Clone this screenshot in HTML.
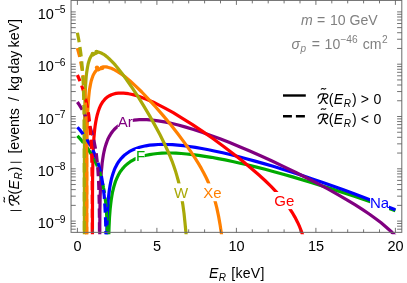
<!DOCTYPE html>
<html><head><meta charset="utf-8"><title>plot</title>
<style>
html,body{margin:0;padding:0;background:#fff;}
body{width:407px;height:283px;overflow:hidden;}
svg{display:block;will-change:transform;font-family:"Liberation Sans",sans-serif;font-size:14.1px;}
.c path{fill:none;stroke-width:3.2;stroke-linejoin:round;}
</style></head><body>
<svg width="407" height="283" viewBox="0 0 407 283">
<defs><clipPath id="cp"><rect x="70.05" y="-0.6" width="332.75" height="234.95"/></clipPath></defs>
<g class="c" clip-path="url(#cp)">
<path d="M108.2,262.4 L108.3,262.4 L108.6,242.5 L109.0,227.8 L109.5,217.5 L110.2,208.5 L110.7,204.1 L111.2,200.1 L111.8,196.3 L112.4,192.7 L113.2,189.4 L114.0,186.2 L114.9,183.3 L115.8,180.6 L117.0,177.9 L118.2,175.3 L119.5,172.9 L121.0,170.7 L122.6,168.6 L124.3,166.7 L126.2,164.9 L128.2,163.2 L130.3,161.7 L132.6,160.3 L135.0,159.0 L137.5,157.9 L140.3,156.9 L143.2,156.0 L146.3,155.2 L149.5,154.6 L153.4,154.0 L157.5,153.5 L161.9,153.2 L166.4,153.0 L171.2,153.0 L176.1,153.2 L181.3,153.5 L186.7,154.0 L192.5,154.6 L198.6,155.3 L204.9,156.3 L211.4,157.3 L218.2,158.6 L225.2,159.9 L232.6,161.5 L240.2,163.2 L248.2,165.0 L256.5,167.1 L265.1,169.3 L274.0,171.7 L283.2,174.2 L292.6,176.9 L312.0,182.7 L332.5,189.1 L353.6,196.1 L374.8,203.3 L395.4,210.7" stroke="#00aa00"/>
<path d="M106.3,262.4 L106.4,262.4 L106.6,241.0 L107.0,224.4 L107.4,212.6 L108.0,202.8 L108.4,198.2 L108.9,193.8 L109.4,189.8 L110.0,185.9 L110.7,182.4 L111.4,179.0 L112.3,175.9 L113.2,173.0 L114.2,170.2 L115.4,167.4 L116.7,164.9 L118.1,162.5 L119.6,160.4 L121.3,158.3 L123.1,156.5 L125.0,154.7 L127.0,153.2 L129.2,151.7 L131.6,150.4 L134.1,149.2 L136.8,148.2 L139.6,147.3 L142.6,146.5 L145.8,145.8 L149.7,145.2 L153.9,144.8 L158.2,144.5 L162.7,144.4 L167.5,144.5 L172.5,144.7 L177.8,145.1 L183.4,145.7 L189.3,146.5 L195.4,147.4 L201.8,148.5 L208.5,149.7 L215.4,151.2 L222.7,152.8 L230.2,154.5 L238.0,156.5 L246.3,158.7 L255.0,161.1 L263.9,163.6 L273.1,166.3 L282.6,169.3 L292.3,172.3 L302.2,175.6 L312.4,179.0 L322.8,182.6 L333.5,186.3 L344.1,190.1 L354.8,194.0 L365.3,198.0 L375.6,202.0 L385.7,205.9 L395.4,209.8" stroke="#0000ff"/>
<path d="M99.6,262.4 L99.8,228.1 L99.9,210.8 L100.2,195.6 L100.7,183.0 L101.0,177.3 L101.3,171.9 L101.8,167.2 L102.2,162.7 L102.8,158.5 L103.4,154.8 L104.1,151.3 L104.9,147.9 L105.9,144.6 L107.0,141.5 L108.1,138.7 L109.5,136.1 L110.9,133.7 L112.5,131.5 L114.2,129.5 L116.1,127.7 L118.1,126.1 L120.3,124.7 L122.6,123.5 L125.1,122.4 L127.8,121.5 L130.7,120.8 L133.8,120.2 L137.0,119.8 L139.3,119.7 L141.7,119.6 L144.2,119.6 L146.8,119.7 L152.3,120.1 L158.2,120.8 L164.4,121.9 L171.1,123.3 L178.2,125.0 L185.7,127.1 L193.6,129.5 L202.0,132.3 L210.8,135.4 L220.0,138.8 L229.6,142.6 L239.6,146.7 L249.8,151.0 L260.5,155.7 L272.1,161.0 L283.8,166.6 L295.4,172.2 L306.9,178.0 L317.8,183.6 L328.2,189.2 L337.9,194.6 L346.9,199.8 L354.9,204.7 L362.3,209.4 L369.2,214.0 L375.4,218.5 L381.1,222.8 L386.3,227.2 L391.1,231.5 L395.4,235.8" stroke="#800080"/>
<path d="M92.4,262.4 L92.5,195.6 L92.6,176.4 L92.9,161.2 L93.3,148.4 L93.9,138.2 L94.3,133.5 L94.7,129.3 L95.2,125.4 L95.8,121.8 L96.5,118.1 L97.3,114.7 L98.2,111.6 L99.2,108.7 L100.3,106.1 L101.5,103.8 L102.8,101.7 L104.3,99.9 L105.9,98.2 L107.6,96.8 L109.5,95.7 L111.5,94.7 L113.7,94.0 L116.0,93.4 L118.5,93.1 L121.1,93.0 L123.5,93.1 L125.9,93.3 L128.4,93.7 L131.1,94.2 L133.9,94.9 L136.9,95.8 L140.0,96.8 L143.1,97.9 L146.5,99.2 L149.9,100.7 L153.5,102.3 L157.2,104.1 L164.9,108.1 L173.2,112.7 L182.4,118.3 L192.1,124.4 L202.2,131.1 L212.5,138.3 L223.0,146.0 L233.2,153.7 L242.8,161.3 L251.7,168.7 L258.7,174.8 L265.0,180.5 L270.8,186.1 L276.0,191.6 L280.7,196.8 L284.9,202.0 L288.7,207.1 L290.5,209.8 L292.1,212.3 L294.9,217.1 L297.4,221.9 L299.6,226.7 L301.6,231.9 L304.0,239.1 L306.3,246.6 L308.2,254.3 L310.0,262.3 L310.1,262.4 L320.2,262.4" stroke="#ff0000"/>
<path d="M86.7,262.4 L86.8,181.7 L86.8,157.7 L87.0,141.6 L87.2,127.4 L87.5,116.1 L88.0,106.5 L88.6,98.2 L89.0,94.1 L89.4,90.3 L90.0,86.9 L90.6,83.8 L91.2,81.0 L92.0,78.5 L92.8,76.2 L93.7,74.2 L94.7,72.5 L95.8,71.0 L96.9,69.7 L98.2,68.7 L98.2,70.0 L99.3,69.3 L100.4,68.7 L101.6,68.3 L102.9,68.1 L102.9,66.9 L104.3,66.8 L105.9,66.9 L107.6,67.2 L109.4,67.7 L111.3,68.3 L113.3,69.2 L115.4,70.3 L117.6,71.6 L119.9,73.1 L122.3,74.7 L124.8,76.6 L127.4,78.7 L130.1,81.0 L135.7,86.1 L141.8,92.0 L148.7,99.3 L155.9,107.2 L163.4,115.9 L170.8,124.8 L177.8,133.8 L184.4,142.6 L190.3,150.9 L195.4,158.6 L198.5,163.6 L201.3,168.4 L203.9,173.2 L206.2,177.8 L208.4,182.5 L210.3,187.0 L212.0,191.4 L213.6,196.2 L215.3,202.0 L216.8,207.8 L218.6,216.4 L220.2,225.4 L221.4,233.5 L222.6,242.3 L223.6,251.2 L224.7,262.4 L228.7,262.4" stroke="#ff8000"/>
<path d="M84.4,262.4 L84.4,175.8 L84.5,129.3 L84.7,114.2 L84.9,102.7 L85.2,93.2 L85.6,84.8 L86.2,76.6 L86.6,73.1 L87.1,69.8 L87.6,66.8 L88.1,64.2 L88.7,61.9 L89.4,59.8 L90.1,57.9 L90.9,56.4 L91.8,55.1 L92.7,54.0 L92.9,53.8 L92.9,55.1 L93.7,54.4 L94.6,53.9 L95.5,53.5 L96.4,53.3 L96.4,52.1 L97.3,52.0 L98.5,52.1 L99.8,52.5 L101.2,53.0 L102.7,53.8 L104.3,54.7 L105.9,55.9 L107.6,57.3 L109.4,59.0 L111.3,60.8 L113.3,62.9 L115.4,65.2 L117.5,67.7 L122.0,73.4 L126.8,80.0 L132.4,88.1 L138.2,96.9 L144.0,106.4 L149.8,116.1 L155.1,125.6 L159.9,134.5 L164.1,143.0 L167.8,151.0 L170.0,156.1 L171.9,160.8 L173.7,165.7 L175.3,170.4 L176.7,175.1 L178.0,179.7 L179.2,184.4 L180.3,189.3 L181.4,195.7 L182.8,204.4 L184.0,213.1 L184.9,221.8 L185.8,231.0 L186.7,241.0 L187.4,251.8 L187.9,261.9 L188.0,262.4 L190.3,262.4" stroke="#a9a908"/>
<g stroke="none"><circle cx="97.0" cy="67.6" r="2.2" fill="#ff8000"/><circle cx="101.7" cy="68.0" r="2.2" fill="#ff8000"/><circle cx="92.8" cy="53.9" r="2.2" fill="#a9a908"/><circle cx="96.5" cy="52.0" r="2.2" fill="#a9a908"/></g>
<path d="M77.4,135.8 L79.8,138.4 L82.0,141.0 L84.1,143.7 L86.1,146.3 L88.0,148.9 L89.7,151.6 L91.4,154.4 L93.0,157.1 L94.4,159.9 L95.8,162.8 L97.1,165.7 L98.3,168.6 L99.4,171.7 L100.4,174.8 L101.3,177.9 L102.1,181.3 L102.9,184.5 L103.5,187.8 L104.2,191.2 L104.7,194.8 L105.7,202.5 L106.4,211.1 L107.0,219.8 L107.4,229.7 L107.8,244.3 L108.0,262.1 L108.0,262.4 L108.2,262.4" stroke="#00aa00" stroke-dasharray="9.2,4.6" stroke-dashoffset="0"/>
<path d="M77.4,127.2 L79.7,129.8 L81.8,132.5 L83.9,135.2 L85.8,137.9 L87.6,140.7 L89.3,143.5 L90.9,146.3 L92.4,149.2 L93.8,152.1 L95.1,155.0 L96.3,158.1 L97.4,161.2 L98.5,164.3 L99.4,167.6 L100.3,170.9 L101.1,174.4 L101.7,177.7 L102.3,181.2 L103.4,188.7 L104.3,196.9 L104.9,206.0 L105.4,215.7 L105.8,226.8 L106.0,241.6 L106.2,261.9 L106.2,262.4 L106.3,262.4" stroke="#0000ff" stroke-dasharray="9.2,4.6" stroke-dashoffset="0"/>
<path d="M77.4,102.0 L79.3,104.9 L81.1,107.8 L82.7,110.7 L84.3,113.7 L85.8,116.7 L87.2,119.7 L88.4,122.8 L89.6,125.9 L90.7,129.1 L91.7,132.3 L92.7,135.6 L93.5,139.0 L94.3,142.5 L95.0,146.1 L95.7,149.9 L96.3,153.8 L97.2,161.5 L97.9,169.9 L98.5,179.4 L98.9,190.2 L99.2,201.9 L99.4,216.7 L99.6,262.4" stroke="#800080" stroke-dasharray="9.2,4.6" stroke-dashoffset="0"/>
<path d="M77.4,75.0 L78.7,78.0 L80.0,81.1 L81.2,84.2 L82.3,87.4 L83.3,90.6 L84.3,93.8 L85.2,97.1 L86.0,100.5 L87.4,107.4 L88.7,114.7 L89.6,122.4 L90.4,130.8 L91.0,139.2 L91.4,148.5 L91.8,159.1 L92.0,171.3 L92.2,185.6 L92.3,202.5 L92.4,262.4" stroke="#ff0000" stroke-dasharray="9.2,4.6" stroke-dashoffset="2.5"/>
<path d="M77.4,48.1 L79.1,54.5 L80.6,61.2 L81.8,67.9 L82.9,75.0 L83.8,82.4 L84.6,90.1 L85.2,98.5 L85.7,107.6 L86.0,116.8 L86.3,127.3 L86.4,138.7 L86.6,152.9 L86.7,184.4 L86.7,262.4" stroke="#ff8000" stroke-dasharray="9.2,4.6" stroke-dashoffset="0"/>
<path d="M77.4,32.8 L78.7,39.5 L79.8,46.2 L80.8,53.2 L81.6,60.4 L82.3,68.0 L82.8,76.0 L83.3,84.6 L83.6,94.1 L84.0,112.7 L84.2,138.8 L84.3,170.2 L84.4,262.4" stroke="#a9a908" stroke-dasharray="9.5,5.0" stroke-dashoffset="0"/>
</g>
<rect x="71.05" y="0.4" width="330.75" height="231.95" fill="none" stroke="#6a6a6a" stroke-width="1"/>
<path d="M77.40,232.35v-4.5M77.40,0.4v4.5M93.30,232.35v-3.0M93.30,0.4v3.0M109.20,232.35v-3.0M109.20,0.4v3.0M125.10,232.35v-3.0M125.10,0.4v3.0M141.00,232.35v-3.0M141.00,0.4v3.0M156.90,232.35v-4.5M156.90,0.4v4.5M172.80,232.35v-3.0M172.80,0.4v3.0M188.70,232.35v-3.0M188.70,0.4v3.0M204.60,232.35v-3.0M204.60,0.4v3.0M220.50,232.35v-3.0M220.50,0.4v3.0M236.40,232.35v-4.5M236.40,0.4v4.5M252.30,232.35v-3.0M252.30,0.4v3.0M268.20,232.35v-3.0M268.20,0.4v3.0M284.10,232.35v-3.0M284.10,0.4v3.0M300.00,232.35v-3.0M300.00,0.4v3.0M315.90,232.35v-4.5M315.90,0.4v4.5M331.80,232.35v-3.0M331.80,0.4v3.0M347.70,232.35v-3.0M347.70,0.4v3.0M363.60,232.35v-3.0M363.60,0.4v3.0M379.50,232.35v-3.0M379.50,0.4v3.0M395.40,232.35v-4.5M395.40,0.4v4.5M71.05,229.20h4.7M401.8,229.20h-4.7M71.05,226.17h4.7M401.8,226.17h-4.7M71.05,223.49h4.7M401.8,223.49h-4.7M71.05,221.10h4.7M401.8,221.10h-4.7M71.05,205.36h4.7M401.8,205.36h-4.7M71.05,196.15h4.7M401.8,196.15h-4.7M71.05,189.61h4.7M401.8,189.61h-4.7M71.05,184.54h4.7M401.8,184.54h-4.7M71.05,180.40h4.7M401.8,180.40h-4.7M71.05,176.90h4.7M401.8,176.90h-4.7M71.05,173.87h4.7M401.8,173.87h-4.7M71.05,171.19h4.7M401.8,171.19h-4.7M71.05,168.80h4.7M401.8,168.80h-4.7M71.05,153.06h4.7M401.8,153.06h-4.7M71.05,143.85h4.7M401.8,143.85h-4.7M71.05,137.31h4.7M401.8,137.31h-4.7M71.05,132.24h4.7M401.8,132.24h-4.7M71.05,128.10h4.7M401.8,128.10h-4.7M71.05,124.60h4.7M401.8,124.60h-4.7M71.05,121.57h4.7M401.8,121.57h-4.7M71.05,118.89h4.7M401.8,118.89h-4.7M71.05,116.50h4.7M401.8,116.50h-4.7M71.05,100.76h4.7M401.8,100.76h-4.7M71.05,91.55h4.7M401.8,91.55h-4.7M71.05,85.01h4.7M401.8,85.01h-4.7M71.05,79.94h4.7M401.8,79.94h-4.7M71.05,75.80h4.7M401.8,75.80h-4.7M71.05,72.30h4.7M401.8,72.30h-4.7M71.05,69.27h4.7M401.8,69.27h-4.7M71.05,66.59h4.7M401.8,66.59h-4.7M71.05,64.20h4.7M401.8,64.20h-4.7M71.05,48.46h4.7M401.8,48.46h-4.7M71.05,39.25h4.7M401.8,39.25h-4.7M71.05,32.71h4.7M401.8,32.71h-4.7M71.05,27.64h4.7M401.8,27.64h-4.7M71.05,23.50h4.7M401.8,23.50h-4.7M71.05,20.00h4.7M401.8,20.00h-4.7M71.05,16.97h4.7M401.8,16.97h-4.7M71.05,14.29h4.7M401.8,14.29h-4.7M71.05,11.90h4.7M401.8,11.90h-4.7" stroke="#5a5a5a" stroke-width="0.85" fill="none"/>
<g font-size="15" text-anchor="middle">
<rect x="117.8" y="115" width="15.0" height="15.5" fill="#fff"/>
<text x="125.3" y="127.4" fill="#800080">Ar</text>
<rect x="135.6" y="149" width="9.1" height="15.0" fill="#fff"/>
<text x="140.6" y="161.0" fill="#00aa00">F</text>
<rect x="172" y="183.4" width="18.0" height="17.8" fill="#fff"/>
<text x="181" y="197.6" fill="#a9a908">W</text>
<rect x="203" y="183.4" width="19.0" height="17.8" fill="#fff"/>
<text x="212.5" y="197.6" fill="#ff8000">Xe</text>
<rect x="274" y="192.0" width="21.0" height="17.1" fill="#fff"/>
<text x="284.3" y="206.0" fill="#ff0000">Ge</text>
<rect x="370.1" y="194" width="18.9" height="19.0" fill="#fff"/>
<text x="379.6" y="207.7" fill="#0000ff">Na</text>
</g>
<g font-size="14.5">
<text x="77.5" y="250.5" text-anchor="middle">0</text>
<text x="157.0" y="250.5" text-anchor="middle">5</text>
<text x="236.5" y="250.5" text-anchor="middle">10</text>
<text x="316.0" y="250.5" text-anchor="middle">15</text>
<text x="395.5" y="250.5" text-anchor="middle">20</text>
<text x="37.8" y="18.9">10</text><text x="54.3" y="13.3" font-size="10.3" letter-spacing="-0.6">−5</text>
<text x="37.8" y="71.2">10</text><text x="54.3" y="65.6" font-size="10.3" letter-spacing="-0.6">−6</text>
<text x="37.8" y="123.5">10</text><text x="54.3" y="117.9" font-size="10.3" letter-spacing="-0.6">−7</text>
<text x="37.8" y="175.8">10</text><text x="54.3" y="170.2" font-size="10.3" letter-spacing="-0.6">−8</text>
<text x="37.8" y="228.1">10</text><text x="54.3" y="222.5" font-size="10.3" letter-spacing="-0.6">−9</text>
</g>
<g fill="#808080">
<text x="300.9" y="25.2" font-style="italic">m</text>
<text x="317.0" y="25.2">=</text>
<text x="330.0" y="25.2">10</text>
<text x="349.5" y="25.2">GeV</text>
<text x="291.6" y="49.2" font-style="italic">σ</text>
<text x="300.5" y="52.400000000000006" font-size="10.0" font-style="italic">p</text>
<text x="311.7" y="49.2">=</text>
<text x="324.6" y="49.2">10</text>
<text x="340.4" y="43.400000000000006" font-size="10.2">−46</text>
<text x="362.8" y="49.2">cm</text>
<text x="382.1" y="43.400000000000006" font-size="10.2">2</text>
</g>
<path d="M283,95.5H305.8" stroke="#000" stroke-width="2.4"/>
<path d="M283,116.3H291.9M295.9,116.3H304.9" stroke="#000" stroke-width="2.4"/>
<g transform="translate(317.3,103.6) scale(1.0)" fill="none" stroke="#000" stroke-width="1.2" stroke-linecap="round"><path d="M0.9,-5.6 C0.4,-7.6 2.2,-9.7 5.6,-9.7 L8.2,-9.7 C11.6,-9.7 11.8,-5.2 6.2,-4.9 L8.3,-1.2 C8.8,-0.3 9.4,-0.1 10.0,-0.3 M6.5,-9.5 L4.9,-3.4 C4.3,-1.4 3.2,-0.2 1.7,-0.1"/><path d="M3.9,-14.4 C4.6,-15.3 5.5,-15.2 6.2,-14.8 C6.9,-14.4 7.8,-14.3 8.5,-15.1" stroke-width="1.05"/></g>
<text x="328.83" y="103.6">(</text>
<text x="333.66" y="103.6" font-style="italic">E</text>
<text x="343.69" y="106.5" font-size="10.0" font-style="italic">R</text>
<text x="352.02" y="103.6">)</text>
<text x="360.8" y="103.6">&gt;</text>
<text x="373.45" y="103.6">0</text>
<g transform="translate(317.3,123.8) scale(1.0)" fill="none" stroke="#000" stroke-width="1.2" stroke-linecap="round"><path d="M0.9,-5.6 C0.4,-7.6 2.2,-9.7 5.6,-9.7 L8.2,-9.7 C11.6,-9.7 11.8,-5.2 6.2,-4.9 L8.3,-1.2 C8.8,-0.3 9.4,-0.1 10.0,-0.3 M6.5,-9.5 L4.9,-3.4 C4.3,-1.4 3.2,-0.2 1.7,-0.1"/><path d="M3.9,-14.4 C4.6,-15.3 5.5,-15.2 6.2,-14.8 C6.9,-14.4 7.8,-14.3 8.5,-15.1" stroke-width="1.05"/></g>
<text x="328.83" y="123.8">(</text>
<text x="333.66" y="123.8" font-style="italic">E</text>
<text x="343.69" y="126.7" font-size="10.0" font-style="italic">R</text>
<text x="352.02" y="123.8">)</text>
<text x="360.8" y="123.8">&lt;</text>
<text x="373.45" y="123.8">0</text>
<text x="209.0" y="277.6" font-style="italic">E</text>
<text x="218.7" y="280.6" font-size="10.0" font-style="italic">R</text>
<text x="231.3" y="277.6" letter-spacing="0.25">[keV]</text>
<g transform="translate(19,214) rotate(-90)"><path d="M3.5,-8.6V2.6M51.7,-8.6V2.6" stroke="#000" stroke-width="0.9"/><g transform="translate(8.1,0) scale(1.0)" fill="none" stroke="#000" stroke-width="1.2" stroke-linecap="round"><path d="M0.9,-5.6 C0.4,-7.6 2.2,-9.7 5.6,-9.7 L8.2,-9.7 C11.6,-9.7 11.8,-5.2 6.2,-4.9 L8.3,-1.2 C8.8,-0.3 9.4,-0.1 10.0,-0.3 M6.5,-9.5 L4.9,-3.4 C4.3,-1.4 3.2,-0.2 1.7,-0.1"/><path d="M3.9,-14.4 C4.6,-15.3 5.5,-15.2 6.2,-14.8 C6.9,-14.4 7.8,-14.3 8.5,-15.1" stroke-width="1.05"/></g>
<text x="19.63" y="0">(</text>
<text x="24.46" y="0" font-style="italic">E</text>
<text x="34.49" y="2.9" font-size="10.0" font-style="italic">R</text>
<text x="42.82" y="0">)</text>
<text x="60.4" y="0">[events</text>
<text x="112.9" y="0">/</text>
<text x="122.9" y="0">kg</text>
<text x="140.6" y="0">day</text>
<text x="166.6" y="0">keV]</text>
</g>
</svg>
</body></html>
